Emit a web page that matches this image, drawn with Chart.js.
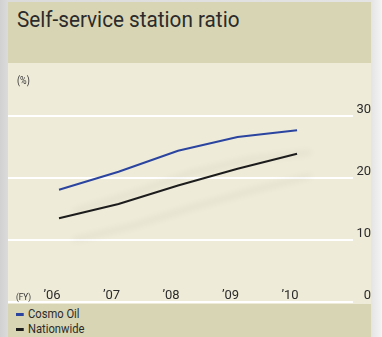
<!DOCTYPE html>
<html>
<head>
<meta charset="utf-8">
<script src="https://cdn.jsdelivr.net/npm/chart.js@4/dist/chart.umd.min.js"></script>
<style>
    html, body { margin: 0; padding: 0; }
    body {
        width: 382px;
        height: 337px;
        overflow: hidden;
        position: relative;
        background: linear-gradient(to right, #d2d1d2 0px, #dcdbdc 8px, #e4e4e4 371px, #f4f4f4 382px);
        font-family: Roboto, "Liberation Sans", sans-serif;
        color: #2b2b2b;
    }
    #panel { position: absolute; left: 8px; top: 2px; width: 363px; height: 335px; }
    #head { position: absolute; left: 0; top: 0; width: 363px; height: 61px; background: #d8d5b5; }
    #title { position: absolute; left: 9px; top: 6px; font-size: 22px; line-height: 24px; color: #2b2b2b; white-space: nowrap; transform-origin: 0 0; }
    #plot { position: absolute; left: 0; top: 61px; width: 363px; height: 241px; background: #eeebd9; }
    #unit { position: absolute; left: 9px; top: 12px; font-size: 10px; color: #333; transform: scaleX(0.9); transform-origin: 0 0; }
    #fy { position: absolute; left: 8px; top: 229px; font-size: 9px; color: #333; transform: scaleX(0.9); transform-origin: 0 0; }
    #legend { position: absolute; left: 0; top: 302px; width: 363px; height: 33px; background: #d8d5b5; }
    .item { position: absolute; left: 8px; font-size: 13px; line-height: 14px; white-space: nowrap; transform: scaleX(0.86); transform-origin: 0 0; }
    .item i { display: inline-block; width: 9px; height: 3px; margin-right: 5px; vertical-align: middle; }
    canvas { position: absolute; left: 0; top: 0; }
</style>
</head>
<body>
<div id="panel">
    <div id="head"><div id="title">Self-service station ratio</div></div>
    <div id="plot">
        <canvas id="chart-ratio" width="363" height="241"></canvas>
        <div id="unit">(%)</div>
        <div id="fy">(FY)</div>
    </div>
    <div id="legend"></div>
</div>
<script>
// Fiscal years and ratios (%)
const years = ["\u201906", "\u201907", "\u201908", "\u201909", "\u201910"];
const cosmoOil = [18.1, 21.0, 24.4, 26.6, 27.7];
const nationwide = [13.5, 15.8, 18.8, 21.5, 23.9];
const yTicks = [0, 10, 20, 30];

const FONT = 'Roboto, "Liberation Sans", sans-serif';

// squeeze the title to the narrow width of the original typeface
const title = document.getElementById('title');
title.style.transform = 'scaleX(' + (222 / title.offsetWidth).toFixed(3) + ')';

// soft drop shadow under each line
const shadowPlugin = {
    id: 'lineShadow',
    beforeDatasetDraw(chart) {
        const ctx = chart.ctx;
        ctx.save();
        ctx.shadowColor = 'rgba(0, 0, 0, 0.11)';
        ctx.shadowBlur = 7;
        ctx.shadowOffsetX = 14;
        ctx.shadowOffsetY = 22;
    },
    afterDatasetDraw(chart) {
        chart.ctx.restore();
    },
};

// year labels sit just above the zero line
const yearLabels = {
    id: 'yearLabels',
    afterDraw(chart) {
        const ctx = chart.ctx;
        const x = chart.scales.x;
        const y = chart.scales.y;
        ctx.save();
        ctx.font = '13px ' + FONT;
        ctx.fillStyle = '#2b2b2b';
        ctx.textAlign = 'center';
        ctx.textBaseline = 'bottom';
        years.forEach((lbl, i) => {
            ctx.fillText(lbl, x.getPixelForValue(i) - 7, y.getPixelForValue(0));
        });
        ctx.restore();
    },
};

function series(values) {
    return values.map((v, i) => ({ x: i, y: v }));
}

const ratioChart = new Chart(document.getElementById('chart-ratio'), {
    type: 'line',
    data: {
        datasets: [
            {
                label: 'Cosmo Oil',
                data: series(cosmoOil),
                borderColor: '#2a44a0',
                borderWidth: 2,
                pointRadius: 0,
                tension: 0,
                fill: false,
            },
            {
                label: 'Nationwide',
                data: series(nationwide),
                borderColor: '#1d1d1d',
                borderWidth: 2,
                pointRadius: 0,
                tension: 0,
                fill: false,
            },
        ],
    },
    options: {
        responsive: false,
        animation: false,
        devicePixelRatio: 1,
        layout: { padding: { top: 53, bottom: 2, left: 0, right: 0 } },
        plugins: {
            legend: { display: false },
            tooltip: { enabled: false },
        },
        scales: {
            x: {
                type: 'linear',
                display: false,
                min: -0.857,
                max: 4.94,
            },
            y: {
                position: 'right',
                min: 0,
                max: 30,
                afterBuildTicks: axis => { axis.ticks = yTicks.map(v => ({ value: v })); },
                afterFit: axis => { axis.width = 18; },
                grid: { color: '#ffffff', lineWidth: 2, drawTicks: false },
                border: { display: false },
                ticks: {
                    color: '#2b2b2b',
                    font: { family: FONT, size: 13, lineHeight: 0.1 },
                    padding: 0,
                    crossAlign: 'far',
                    labelOffset: -6,
                },
            },
        },
    },
    plugins: [shadowPlugin, yearLabels],
});

// legend from the datasets
const legend = document.getElementById('legend');
ratioChart.data.datasets.forEach((ds, i) => {
    const el = document.createElement('div');
    el.className = 'item';
    el.style.top = (3 + i * 15) + 'px';
    el.innerHTML = '<i style="background:' + ds.borderColor + '"></i>' + ds.label;
    legend.appendChild(el);
});
</script>
</body>
</html>
